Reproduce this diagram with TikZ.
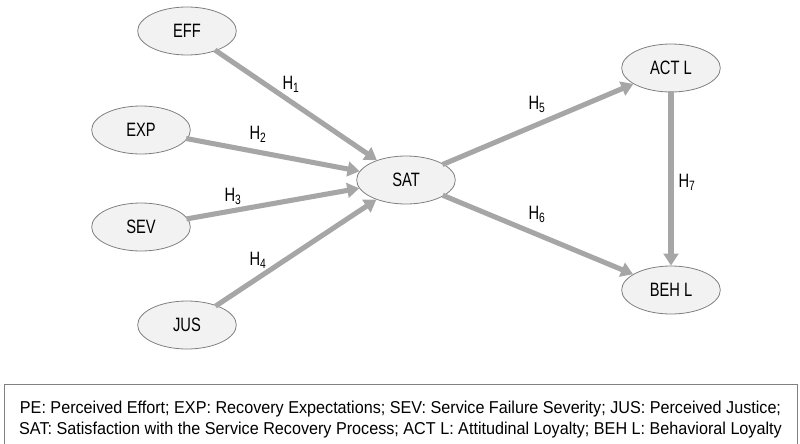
\documentclass[tikz,border=0pt]{standalone}
\usepackage{fontspec}
\setmainfont[FakeStretch=0.94]{Liberation Sans}
\newfontfamily\labelfont[FakeStretch=0.76]{Liberation Sans}
\usepackage{xcolor}
\usepackage{tikz}
\usetikzlibrary{shapes.geometric,arrows.meta}

\definecolor{pathgray}{HTML}{A6A6A6}
\definecolor{nodefill}{HTML}{F2F2F2}
\definecolor{nodeline}{HTML}{808080}

\begin{document}
\begin{tikzpicture}[x=0.75pt,y=-0.75pt,
        construct/.style={ellipse,draw=nodeline,fill=nodefill,line width=0.6pt,
            minimum width=74pt,minimum height=36pt,inner sep=0pt,font=\labelfont\fontsize{14.5}{16}\selectfont},
        path/.style={draw=pathgray,line width=3.8pt,-{Triangle[length=9pt,width=11pt]},shorten <=-1pt},
        hyp/.style={font=\labelfont\fontsize{14.5}{16}\selectfont}]
        \useasboundingbox (0,0) rectangle (800,443);

        % Antecedents
        \node[construct] (eff) at (187,31) {EFF};
        \node[construct] (exp) at (141,130) {EXP};
        \node[construct] (sev) at (141,227) {SEV};
        \node[construct] (jus) at (187,325) {JUS};

        % Mediator and outcomes
        \node[construct] (sat) at (406,180) {SAT};
        \node[construct] (actl) at (671,68) {ACT L};
        \node[construct] (behl) at (671,290) {BEH L};

        % Paths
        \draw[path] (eff) -- (sat);
        \draw[path] (exp) -- (sat);
        \draw[path] (sev) -- (sat);
        \draw[path] (jus) -- (sat);
        \draw[path] (sat) -- (actl);
        \draw[path] (sat) -- (behl);
        \draw[path] (actl) -- (behl);

        % Hypotheses
        \node[hyp] (h1) at (291,84) {H\textsubscript{1}};
        \node[hyp] (h2) at (258,134) {H\textsubscript{2}};
        \node[hyp] (h3) at (233,196) {H\textsubscript{3}};
        \node[hyp] (h4) at (258,260) {H\textsubscript{4}};
        \node[hyp] (h5) at (537,104) {H\textsubscript{5}};
        \node[hyp] (h6) at (537,214) {H\textsubscript{6}};
        \node[hyp] (h7) at (687,182) {H\textsubscript{7}};

        % Legend
        \node[draw=nodeline,line width=0.6pt,minimum width=594.75pt,minimum height=54pt,
            align=center,inner sep=0pt,font=\fontsize{12.9}{15.8}\selectfont] (legend) at (400.5,420)
            {PE: Perceived Effort; EXP: Recovery Expectations; SEV: Service Failure Severity; JUS: Perceived Justice;\\
             SAT: Satisfaction with the Service Recovery Process; ACT L: Attitudinal Loyalty; BEH L: Behavioral Loyalty};
    \end{tikzpicture}
\end{document}
